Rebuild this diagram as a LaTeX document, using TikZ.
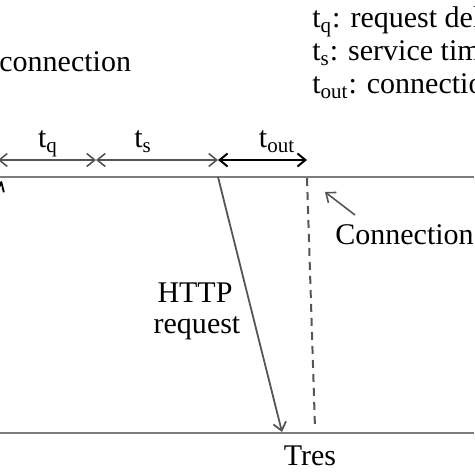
\documentclass[tikz,border=0pt]{standalone}
\usepackage{fontspec}
\setmainfont{Liberation Serif}
\usetikzlibrary{arrows.meta}
\definecolor{linegray}{RGB}{125,125,125}
\definecolor{arrgray}{RGB}{85,85,85}

\begin{document}
\begin{tikzpicture}[x=0.5pt,y=-0.5pt,font=\fontsize{15}{18}\selectfont,
        >={Straight Barb[length=4pt,width=6.5pt]},
        axis/.style={draw=linegray,line width=1pt},
        span/.style={<->,draw=arrgray,line width=0.8pt},
        lbl/.style={inner sep=0pt,anchor=base}]
        \useasboundingbox (0,0) rectangle (474,474);
        % the two time lines
        \coordinate (TL) at (0,177);
        \coordinate (TR) at (474,177);
        \coordinate (BL) at (0,433);
        \coordinate (BR) at (474,433);
        \draw[axis] (TL) -- (TR);
        \draw[axis] (BL) -- (BR);
        % spans above the top line
        \coordinate (q0) at (-2,160);
        \coordinate (q1) at (96,160);
        \coordinate (s1) at (218,160);
        \coordinate (o1) at (307,160);
        \draw[span] (q0) -- (q1);
        \draw[span] (q1) -- (s1);
        \draw[span,draw=black,line width=1pt] (s1) -- (o1);
        \node[lbl] (tq) at (48,148) {t\textsubscript{q}};
        \node[lbl] (ts) at (143,148) {t\textsubscript{s}};
        \node[lbl] (tout) at (277,148) {t\textsubscript{out}};
        % legend
        \node[lbl,anchor=base west] (Lq) at (312,28) {t\textsubscript{q}: request delay};
        \node[lbl,anchor=base west] (Ls) at (312,61) {t\textsubscript{s}: service time};
        \node[lbl,anchor=base west] (Lout) at (312,94) {t\textsubscript{out}: connection timeout};
        \node[lbl,anchor=base west] (Close) at (-1,72) {connection};
        % request and timeout
        \coordinate (req0) at (218,177);
        \coordinate (req1) at (282,432);
        \draw[->,draw=arrgray,line width=0.9pt] (req0) -- (req1);
        \coordinate (to0) at (307,178);
        \coordinate (to1) at (315,428);
        \draw[draw=arrgray,line width=1pt,dash pattern=on 4pt off 3pt] (to0) -- (to1);
        \node[lbl] (Http) at (195,302) {HTTP};
        \node[lbl] (Req) at (197,333) {request};
        \node[lbl] (Tres) at (310,465) {Tres};
        \node[lbl,anchor=base west] (Conn) at (335,245) {Connection timeout};
        \coordinate (cc0) at (355,215);
        \coordinate (cc1) at (325,192);
        \draw[->,draw=arrgray,line width=0.8pt] (cc0) -- (cc1);
        % clipped arrow on the left edge
        \coordinate (lf0) at (-14,215);
        \coordinate (lf1) at (2,181);
        \draw[->,draw=black,line width=0.9pt] (lf0) -- (lf1);
\end{tikzpicture}
\end{document}
